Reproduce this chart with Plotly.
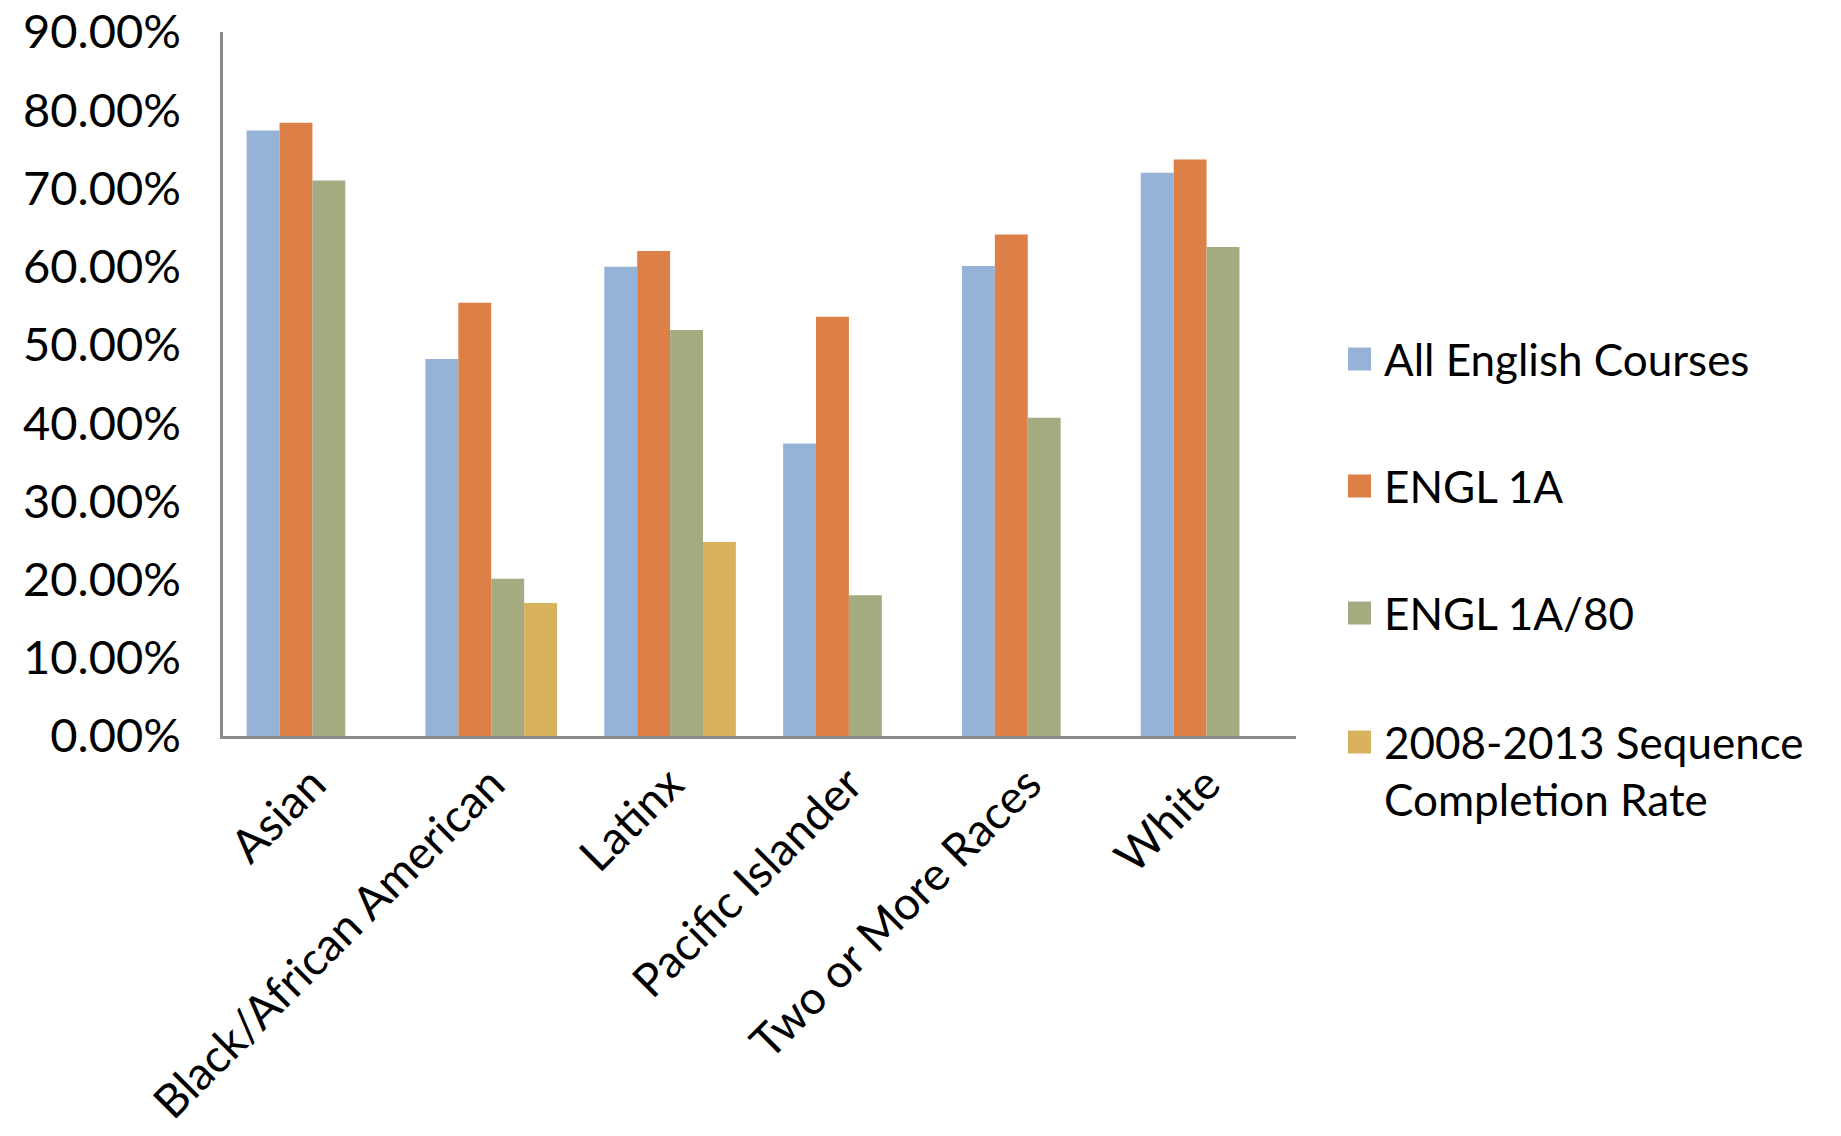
import plotly.graph_objects as go

# Completion rates by race/ethnicity (fractions)
categories = ["Asian", "Black/African American", "Latinx", "Pacific Islander",
              "Two or More Races", "White"]
all_english = [0.774, 0.482, 0.600, 0.374, 0.601, 0.720]
engl_1a = [0.784, 0.554, 0.620, 0.536, 0.641, 0.737]
engl_1a_80 = [0.710, 0.201, 0.519, 0.180, 0.407, 0.625]
sequence_rate = [None, 0.170, 0.248, None, None, None]

series_names = ["All English Courses", "ENGL 1A", "ENGL 1A/80",
                "2008-2013 Sequence<br>Completion Rate"]
series_values = [all_english, engl_1a, engl_1a_80, sequence_rate]
series_colors = ["#95B3D7", "#DD8047", "#A5AB81", "#D8B25C"]

FONT = "Lato"
W, H = 1841, 1136
L, R, T, B = 223, 545, 32, 400
plot_w, plot_h = W - L - R, H - T - B

fig = go.Figure()
for name, vals, col in zip(series_names, series_values, series_colors):
    fig.add_trace(go.Bar(x=categories, y=vals, name=name,
                         marker=dict(color=col, line=dict(width=0)),
                         showlegend=False))

# Hand-built legend: large square swatches with labels to the right
legend_rows = [359, 486, 613, 770]
shapes = []
annotations = []
for name, col, cy in zip(series_names, series_colors, legend_rows):
    sy = cy if "<br>" not in name else 742
    x0 = (1348 - L) / plot_w
    x1 = (1371 - L) / plot_w
    y0 = (H - B - (sy + 11.5)) / plot_h
    y1 = (H - B - (sy - 11.5)) / plot_h
    shapes.append(dict(type="rect", xref="paper", yref="paper",
                       x0=x0, x1=x1, y0=y0, y1=y1,
                       fillcolor=col, line=dict(width=0)))
    annotations.append(dict(xref="paper", yref="paper",
                            x=(1382 - L) / plot_w, y=(H - B - cy) / plot_h,
                            xanchor="left", yanchor="middle", align="left",
                            text=name, showarrow=False,
                            font=dict(family=FONT, size=44, color="black")))

fig.update_layout(
    width=W, height=H,
    margin=dict(l=L, r=R, t=T, b=B, autoexpand=False),
    paper_bgcolor="white", plot_bgcolor="white",
    barmode="group", bargap=0.264, bargroupgap=0,
    shapes=shapes, annotations=annotations,
    font=dict(family=FONT, color="black"),
)
fig.update_xaxes(
    showline=True, linecolor="#8C8C8C", linewidth=2.5,
    showgrid=False, ticks="", tickangle=-45,
    tickfont=dict(family=FONT, size=46, color="black"),
)
fig.update_yaxes(
    range=[0, 0.9], dtick=0.1, tickformat=".2%",
    showline=True, linecolor="#8C8C8C", linewidth=2.5,
    showgrid=False, zeroline=False, ticks="",
    ticklabelstandoff=30,
    tickfont=dict(family=FONT, size=47, color="black"),
)

fig.write_html("out.html")
